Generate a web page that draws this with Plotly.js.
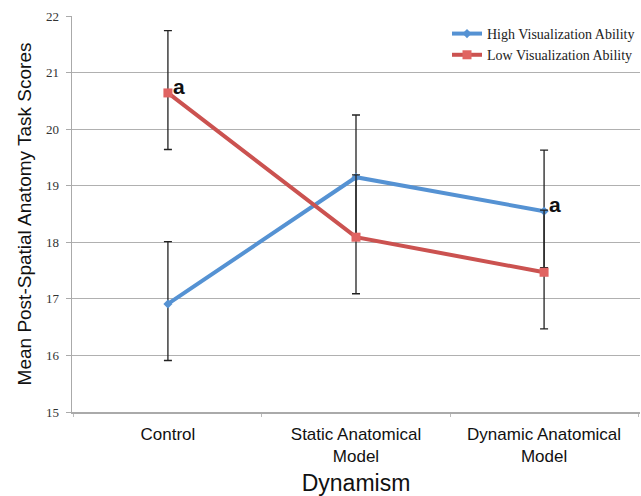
<!DOCTYPE html>
<html><head><meta charset="utf-8">
<script src="https://cdn.plot.ly/plotly-3.0.1.min.js"></script>
<style>body{margin:0;background:#fff}#chart{width:641px;height:496px}</style>
</head><body><div id="chart"></div>
<script>
const categories = ["Control", "Static Anatomical<br>Model", "Dynamic Anatomical<br>Model"];
const highValues = [16.91, 19.15, 18.55];
const highErrPlus = [1.1, 1.1, 1.08];
const highErrMinus = [1.0, 1.0, 1.0];
const lowValues = [20.64, 18.09, 17.47];
const lowErrPlus = [1.1, 1.1, 1.1];
const lowErrMinus = [1.0, 1.0, 1.0];
const yTicks = [15, 16, 17, 18, 19, 20, 21, 22];

const traces = [
  {
    x: categories, y: highValues, name: "High Visualization Ability",
    type: "scatter", mode: "lines+markers",
    line: {color: "#5592d3", width: 4},
    marker: {symbol: "diamond", size: 7, color: "#5592d3"},
    error_y: {type: "data", array: highErrPlus, arrayminus: highErrMinus, color: "#222", thickness: 1.3, width: 4}
  },
  {
    x: categories, y: lowValues, name: "Low Visualization Ability",
    type: "scatter", mode: "lines+markers",
    line: {color: "#cb5250", width: 4},
    marker: {symbol: "square", size: 9, color: "#e06462"},
    error_y: {type: "data", array: lowErrPlus, arrayminus: lowErrMinus, color: "#222", thickness: 1.3, width: 4}
  }
];

const layout = {
  width: 641, height: 496,
  margin: {l: 72, r: 1, t: 16, b: 84},
  paper_bgcolor: "#fff", plot_bgcolor: "#fff",
  showlegend: true,
  legend: {x: 1, xanchor: "right", y: 0.995, yanchor: "top", bgcolor: "#fff",
    font: {family: "Liberation Serif, Times New Roman, serif", size: 14, color: "#222"},
    tracegroupgap: 0, itemwidth: 30},
  xaxis: {
    type: "category", range: [-0.51, 2.51],
    tickson: "boundaries", ticks: "outside", ticklen: 3, tickcolor: "#bbb",
    ticklabelstandoff: 6,
    showgrid: false, showline: true, linecolor: "#aaa", linewidth: 1.5,
    tickfont: {family: "Liberation Sans, Arial, sans-serif", size: 17, color: "#111"},
    title: {text: "Dynamism", font: {family: "Liberation Sans, Arial, sans-serif", size: 23, color: "#111"}, standoff: 12}
  },
  yaxis: {
    range: [15, 22], tickvals: yTicks, ticktext: yTicks.map(String),
    ticks: "outside", ticklen: 5, tickcolor: "#aaa", ticklabelstandoff: 4,
    showgrid: true, gridcolor: "#b0b0b0", gridwidth: 1,
    showline: true, linecolor: "#aaa", linewidth: 1.5, zeroline: false,
    tickfont: {family: "Liberation Serif, Times New Roman, serif", size: 13, color: "#333"},
    title: {text: "Mean Post-Spatial Anatomy Task Scores", font: {family: "Liberation Sans, Arial, sans-serif", size: 19, color: "#111"}, standoff: 9}
  },
  annotations: [
    {x: categories[0], y: lowValues[0], text: "<b>a</b>", showarrow: false, xanchor: "left", yanchor: "bottom", xshift: 3, yshift: -7,
      font: {family: "Liberation Sans, Arial, sans-serif", size: 21, color: "#111"}},
    {x: categories[2], y: highValues[2], text: "<b>a</b>", showarrow: false, xanchor: "left", yanchor: "bottom", xshift: 3, yshift: -7,
      font: {family: "Liberation Sans, Arial, sans-serif", size: 21, color: "#111"}}
  ]
};
Plotly.newPlot("chart", traces, layout, {displayModeBar: false, staticPlot: true});
</script></body></html>
